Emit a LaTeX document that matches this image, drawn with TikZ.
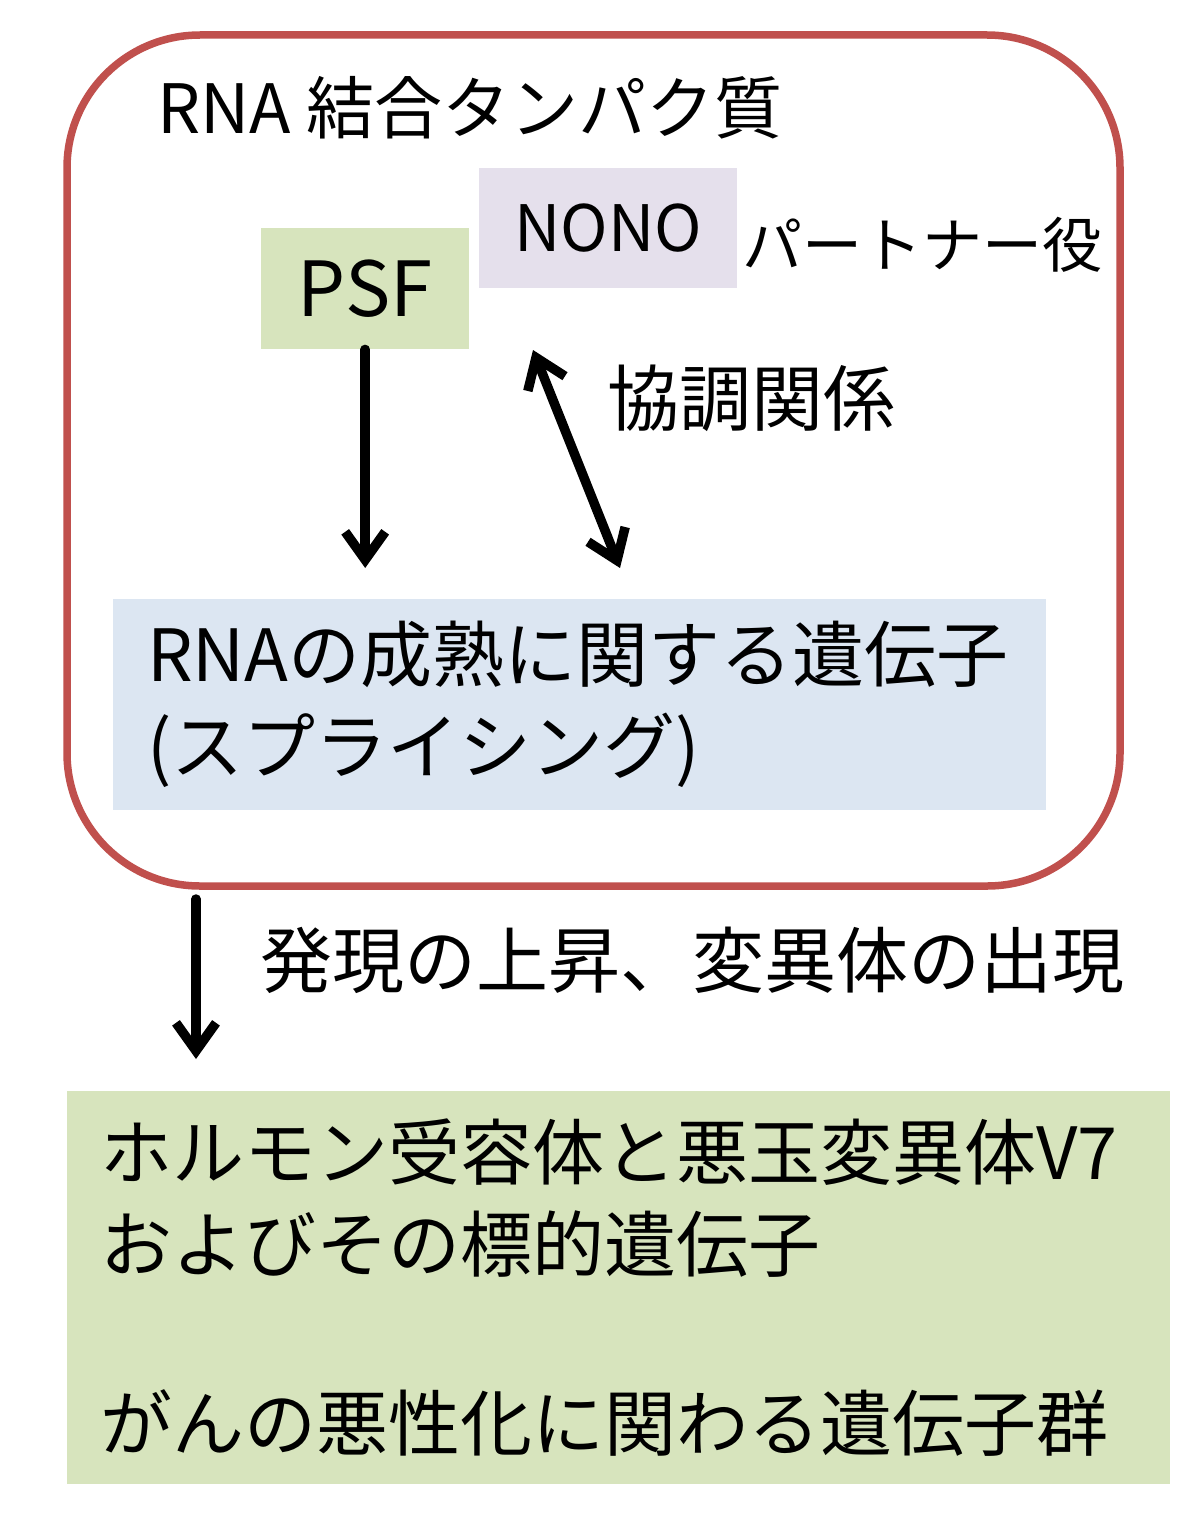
\documentclass[tikz,border=0pt]{standalone}
\usepackage{fontspec}
\setmainfont{Noto Sans CJK JP}
\usetikzlibrary{arrows.meta,positioning,calc}
\definecolor{rbpred}{HTML}{C0504D}
\definecolor{psfgreen}{HTML}{D7E4BD}
\definecolor{nonolilac}{HTML}{E5E0EC}
\definecolor{rnablue}{HTML}{DCE6F2}

\begin{document}
\begin{tikzpicture}[x=1pt, y=-1pt, every node/.style={inner sep=0pt},
    bigtext/.style={font=\fontsize{72}{92}\selectfont},
    barb/.style={-{Straight Barb[length=28pt,width=40pt]}, line width=9.5pt, line cap=round, line join=round},
    dblbarb/.style={{Straight Barb[length=28pt,width=40pt]}-{Straight Barb[length=28pt,width=40pt]}, line width=9.5pt, line cap=round, line join=round}]
            \useasboundingbox (0,0) rectangle (1194,1533);

            % RNA binding protein frame
            \node[draw=rbpred, line width=7.5pt, rounded corners=133pt, minimum width=1053pt, minimum height=851pt] (rbp) at (593.5,460.5) {};
            \node[anchor=west, font=\fontsize{68}{80}\selectfont] (title) at (157,108) {RNA 結合タンパク質};

            % Proteins
            \node[fill=nonolilac, minimum width=258pt, minimum height=120pt, anchor=north west, font=\fontsize{64}{74}\selectfont] (nono) at (479,168) {NONO};
            \node[anchor=west, font=\fontsize{60}{72}\selectfont] (partner) at (742,245) {パートナー役};
            \node[fill=psfgreen, minimum width=208pt, minimum height=121pt, anchor=north west, font=\fontsize{76}{90}\selectfont] (psf) at (261,228) {PSF};

            % Target genes
            \node[fill=rnablue, minimum width=933pt, minimum height=211pt, anchor=north west, inner xsep=34pt, text width=865pt, align=left, bigtext] (rna) at (113,599) {RNAの成熟に関する遺伝子\\(スプライシング)};

            % Edges
            \draw[barb, shorten >=31pt] (psf.south) -- (psf.south |- rna.north);
            \coordinate (cTop) at (533,350);
            \coordinate (cBot) at (620,568);
            \draw[dblbarb] (cTop) -- (cBot);
            \node[anchor=west, bigtext] (coop) at (607,398) {協調関係};

            % Downstream
            \node[fill=psfgreen, minimum width=1103pt, minimum height=393pt, anchor=north west, inner xsep=33pt, text width=1037pt, align=left, bigtext] (cancer) at (67,1091) {ホルモン受容体と悪玉変異体V7\\およびその標的遺伝子\\[87pt]がんの悪性化に関わる遺伝子群};
            \coordinate (down) at (196,899);
            \draw[barb, shorten >=32pt] (down) -- (down |- cancer.north);
            \node[anchor=west, bigtext] (expr) at (260,960) {発現の上昇、変異体の出現};
        \end{tikzpicture}
\end{document}
